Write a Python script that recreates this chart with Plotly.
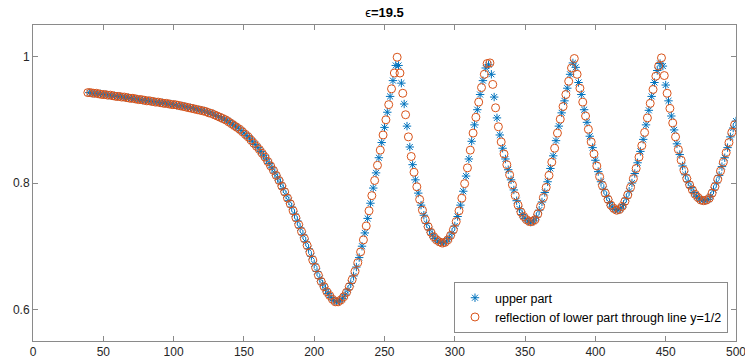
import plotly.graph_objects as go

title_text = "ϵ=19.5"
legend_upper = "upper part"
legend_refl = "reflection of lower part through line y=1/2"

# upper part sampled at x = 40, 42, ..., 500
upper_x = list(range(40, 501, 2))
upper_y = [
    0.943, 0.942, 0.942, 0.941, 0.941, 0.940, 0.940, 0.939, 0.938, 0.938,  # 40-58
    0.937, 0.937, 0.936, 0.935, 0.935, 0.934, 0.933, 0.933, 0.932, 0.931,  # 60-78
    0.931, 0.930, 0.929, 0.929, 0.928, 0.927, 0.927, 0.926, 0.925, 0.925,  # 80-98
    0.924, 0.923, 0.922, 0.922, 0.921, 0.920, 0.919, 0.918, 0.917, 0.916,  # 100-118
    0.915, 0.914, 0.912, 0.911, 0.909, 0.907, 0.905, 0.903, 0.901, 0.899,  # 120-138
    0.896, 0.893, 0.890, 0.887, 0.883, 0.879, 0.875, 0.871, 0.866, 0.861,  # 140-158
    0.856, 0.850, 0.844, 0.838, 0.831, 0.824, 0.816, 0.808, 0.800, 0.791,  # 160-178
    0.781, 0.772, 0.762, 0.751, 0.740, 0.729, 0.718, 0.707, 0.696, 0.684,  # 180-198
    0.672, 0.660, 0.649, 0.640, 0.632, 0.625, 0.619, 0.614, 0.612, 0.613,  # 200-218
    0.617, 0.623, 0.631, 0.641, 0.653, 0.667, 0.682, 0.700, 0.721, 0.744,  # 220-238
    0.768, 0.792, 0.816, 0.840, 0.864, 0.888, 0.912, 0.937, 0.962, 0.986,  # 240-258
    0.986, 0.958, 0.925, 0.890, 0.857, 0.829, 0.805, 0.784, 0.765, 0.749,  # 260-278
    0.736, 0.726, 0.718, 0.712, 0.708, 0.706, 0.705, 0.708, 0.713, 0.721,  # 280-298
    0.732, 0.747, 0.765, 0.787, 0.811, 0.838, 0.866, 0.892, 0.916, 0.940,  # 300-318
    0.962, 0.982, 0.987, 0.972, 0.936, 0.903, 0.876, 0.855, 0.838, 0.821,  # 320-338
    0.805, 0.789, 0.772, 0.759, 0.750, 0.744, 0.740, 0.738, 0.740, 0.746,  # 340-358
    0.757, 0.770, 0.785, 0.802, 0.823, 0.843, 0.867, 0.890, 0.911, 0.930,  # 360-378
    0.950, 0.972, 0.990, 0.983, 0.959, 0.940, 0.916, 0.896, 0.874, 0.856,  # 380-398
    0.836, 0.818, 0.802, 0.790, 0.779, 0.769, 0.762, 0.758, 0.757, 0.760,  # 400-418
    0.766, 0.776, 0.787, 0.800, 0.815, 0.832, 0.850, 0.869, 0.892, 0.915,  # 420-438
    0.937, 0.959, 0.978, 0.989, 0.985, 0.955, 0.930, 0.906, 0.884, 0.862,  # 440-458
    0.845, 0.827, 0.813, 0.802, 0.793, 0.785, 0.779, 0.775, 0.772, 0.772,  # 460-478
    0.774, 0.779, 0.789, 0.800, 0.812, 0.826, 0.840, 0.856, 0.873, 0.887,  # 480-498
    0.898,                                                                 # 500
]

# reflection of lower part sampled at x = 39, 41, ..., 499
refl_x = list(range(39, 500, 2))
refl_y = [
    0.943, 0.943, 0.942, 0.942, 0.941, 0.940, 0.940, 0.939, 0.939, 0.938,  # 39-57
    0.937, 0.937, 0.936, 0.936, 0.935, 0.934, 0.934, 0.933, 0.932, 0.932,  # 59-77
    0.931, 0.930, 0.930, 0.929, 0.928, 0.928, 0.927, 0.926, 0.926, 0.925,  # 79-97
    0.924, 0.924, 0.923, 0.922, 0.921, 0.920, 0.919, 0.918, 0.917, 0.916,  # 99-117
    0.915, 0.914, 0.913, 0.911, 0.910, 0.908, 0.906, 0.904, 0.902, 0.900,  # 119-137
    0.897, 0.894, 0.891, 0.888, 0.885, 0.881, 0.877, 0.873, 0.868, 0.863,  # 139-157
    0.858, 0.853, 0.847, 0.841, 0.834, 0.827, 0.820, 0.812, 0.804, 0.795,  # 159-177
    0.786, 0.776, 0.767, 0.756, 0.745, 0.734, 0.723, 0.712, 0.701, 0.690,  # 179-197
    0.678, 0.666, 0.654, 0.644, 0.636, 0.628, 0.622, 0.616, 0.612, 0.612,  # 199-217
    0.615, 0.620, 0.627, 0.636, 0.647, 0.660, 0.674, 0.691, 0.710, 0.732,  # 219-237
    0.756, 0.780, 0.804, 0.828, 0.852, 0.876, 0.900, 0.924, 0.949, 0.974,  # 239-257
    0.999, 0.974, 0.942, 0.908, 0.873, 0.842, 0.817, 0.794, 0.774, 0.757,  # 259-277
    0.742, 0.731, 0.722, 0.715, 0.710, 0.707, 0.705, 0.706, 0.710, 0.717,  # 279-297
    0.726, 0.739, 0.756, 0.776, 0.799, 0.824, 0.852, 0.879, 0.904, 0.928,  # 299-317
    0.951, 0.972, 0.989, 0.990, 0.956, 0.919, 0.889, 0.865, 0.846, 0.829,  # 319-337
    0.813, 0.797, 0.780, 0.765, 0.754, 0.747, 0.742, 0.739, 0.739, 0.742,  # 339-357
    0.751, 0.763, 0.777, 0.793, 0.812, 0.833, 0.855, 0.879, 0.901, 0.921,  # 359-377
    0.940, 0.961, 0.982, 0.997, 0.972, 0.950, 0.928, 0.906, 0.885, 0.865,  # 379-397
    0.846, 0.827, 0.810, 0.796, 0.784, 0.774, 0.765, 0.760, 0.757, 0.758,  # 399-417
    0.763, 0.771, 0.781, 0.793, 0.807, 0.823, 0.841, 0.859, 0.880, 0.903,  # 419-437
    0.926, 0.948, 0.969, 0.985, 0.998, 0.970, 0.942, 0.918, 0.895, 0.873,  # 439-457
    0.853, 0.836, 0.820, 0.807, 0.797, 0.789, 0.782, 0.777, 0.773, 0.772,  # 459-477
    0.773, 0.776, 0.784, 0.794, 0.806, 0.819, 0.833, 0.848, 0.864, 0.880,  # 479-497
    0.892,                                                                 # 499
]

x_ticks = [0, 50, 100, 150, 200, 250, 300, 350, 400, 450, 500]
y_ticks = [0.6, 0.8, 1.0]
y_tick_labels = ["0.6", "0.8", "1"]

BLUE = "#0072BD"
ORANGE = "#D95319"
AXIS = "#8a8a8a"
TXT = "#262626"
FONT = "Liberation Sans, Arial, Helvetica, sans-serif"

fig = go.Figure()
fig.add_trace(go.Scatter(
    x=upper_x, y=upper_y, mode="markers", name=legend_upper,
    marker=dict(symbol="asterisk-open", size=7, color=BLUE,
                line=dict(color=BLUE, width=1)),
))
fig.add_trace(go.Scatter(
    x=refl_x, y=refl_y, mode="markers", name=legend_refl,
    marker=dict(symbol="circle-open", size=8, color=ORANGE,
                line=dict(color=ORANGE, width=1)),
))

axis_common = dict(
    showgrid=False, zeroline=False, showline=True, linecolor=AXIS, linewidth=1,
    mirror="ticks", ticks="inside", ticklen=5, tickcolor=AXIS, tickwidth=1,
    tickfont=dict(family=FONT, size=12, color=TXT), automargin=False,
    ticklabeloverflow="allow",
)

fig.update_layout(
    width=745, height=361,
    margin=dict(l=33, r=9, t=25, b=20, autoexpand=False),
    paper_bgcolor="white", plot_bgcolor="white",
    title=dict(text="<span style='font-weight:normal'>" + title_text[0] + "</span><b>" + title_text[1:] + "</b>",
               x=(33 + 703 / 2) / 745, xanchor="center", y=1 - 12 / 361, yanchor="middle",
               font=dict(family=FONT, size=13, color="black"), automargin=False),
    xaxis=dict(range=[0, 500], tickvals=x_ticks, ticktext=[str(v) for v in x_ticks], **axis_common),
    yaxis=dict(range=[0.55, 1.05], tickvals=y_ticks, ticktext=y_tick_labels, **axis_common),
    legend=dict(x=0.9886, xanchor="right", y=0.025, yanchor="bottom",
                bgcolor="white", bordercolor=AXIS, borderwidth=1,
                font=dict(family=FONT, size=12.5, color="black"),
                tracegroupgap=0),
    showlegend=True,
)

fig.write_html(
    "out.html",
    config={"displayModeBar": False},
    post_script="document.body.style.margin='0';document.body.style.padding='0';document.body.style.overflow='hidden';",
)
